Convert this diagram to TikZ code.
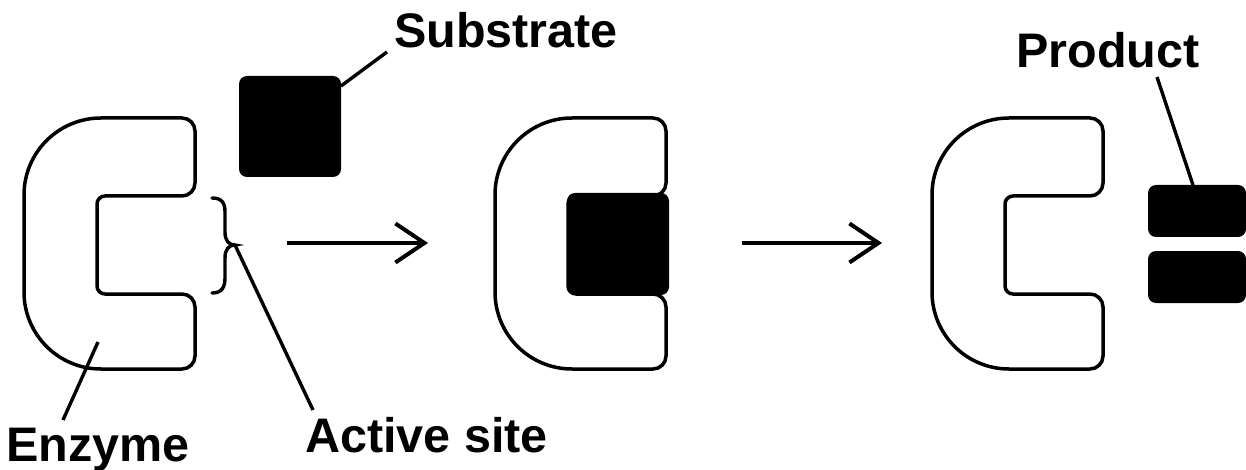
\documentclass[tikz,border=0pt]{standalone}
\usepackage{fontspec}
\setmainfont{Liberation Sans}
\usetikzlibrary{arrows.meta}
\tikzset{
  outline/.style={draw=black, line width=3.5pt, fill=white},
  blob/.style={fill=black, draw=none, rounded corners=8pt, inner sep=0pt},
  lbl/.style={font=\fontsize{48.5}{58}\selectfont\bfseries, inner sep=0pt},
  leader/.style={draw=black, line width=3.4pt},
  react/.style={draw=black, line width=4pt, -{Straight Barb[length=29pt,width=39pt,line width=4pt]}}
}
\newcommand{\enzymeshape}[1]{%
  \begin{scope}[xshift=#1 pt]
  \draw[outline] (81,196) -- (158,196) arc[start angle=90,end angle=0,radius=13]
    -- (171,131) arc[start angle=0,end angle=-90,radius=13]
    -- (77,118) arc[start angle=-90,end angle=-180,radius=77]
    -- (0,292) arc[start angle=180,end angle=90,radius=77]
    -- (158,369) arc[start angle=90,end angle=0,radius=13]
    -- (171,307) arc[start angle=0,end angle=-90,radius=13]
    -- (81,294) arc[start angle=90,end angle=180,radius=8]
    -- (73,204) arc[start angle=180,end angle=270,radius=8] -- cycle;
  \end{scope}}
\begin{document}
\begin{tikzpicture}[x=1pt,y=-1pt]
\useasboundingbox (0,0) rectangle (1246,470);
% enzymes
\enzymeshape{24}
\enzymeshape{495}
\enzymeshape{932}
% substrate
\node[blob, minimum width=102pt, minimum height=101pt] (sub) at (290,126.5) {};
\node[blob, minimum width=102pt, minimum height=102pt] (sub2) at (618,244) {};
% products
\node[blob, minimum width=98pt, minimum height=52pt] (p1) at (1197,211) {};
\node[blob, minimum width=98pt, minimum height=52pt] (p2) at (1197,277) {};
% brace
\coordinate (btip) at (235,245);
\draw[leader, line cap=round] (212,198) .. controls (222,198) and (225,203) .. (225,212)
  -- (225,232) .. controls (225,241) and (229,245) .. (btip)
  .. controls (229,245) and (225,249) .. (225,258)
  -- (225,278) .. controls (225,287) and (222,293) .. (212,293);
% arrows
\coordinate (a1s) at (287,243); \coordinate (a1e) at (428,243);
\coordinate (a2s) at (742,243); \coordinate (a2e) at (882,243);
\draw[react] (a1s) -- (a1e);
\draw[react] (a2s) -- (a2e);
% labels
\node[lbl, anchor=base] (tsub) at (506,48) {Substrate};
\node[lbl, anchor=base] (tprod) at (1108,68) {Product};
\node[lbl, anchor=base] (tenz) at (98,461) {Enzyme};
\node[lbl, anchor=base west] (tact) at (305,452) {Active site};
% leader lines
\coordinate (s1) at (341,86); \coordinate (s2) at (387,52);
\coordinate (q1) at (1157,77); \coordinate (q2) at (1193,185);
\coordinate (e1) at (98,342); \coordinate (e2) at (63,420);
\coordinate (c2) at (313,410);
\draw[leader] (s1) -- (s2);
\draw[leader] (q1) -- (q2);
\draw[leader] (e1) -- (e2);
\draw[leader] (btip) -- (c2);
\end{tikzpicture}
\end{document}
